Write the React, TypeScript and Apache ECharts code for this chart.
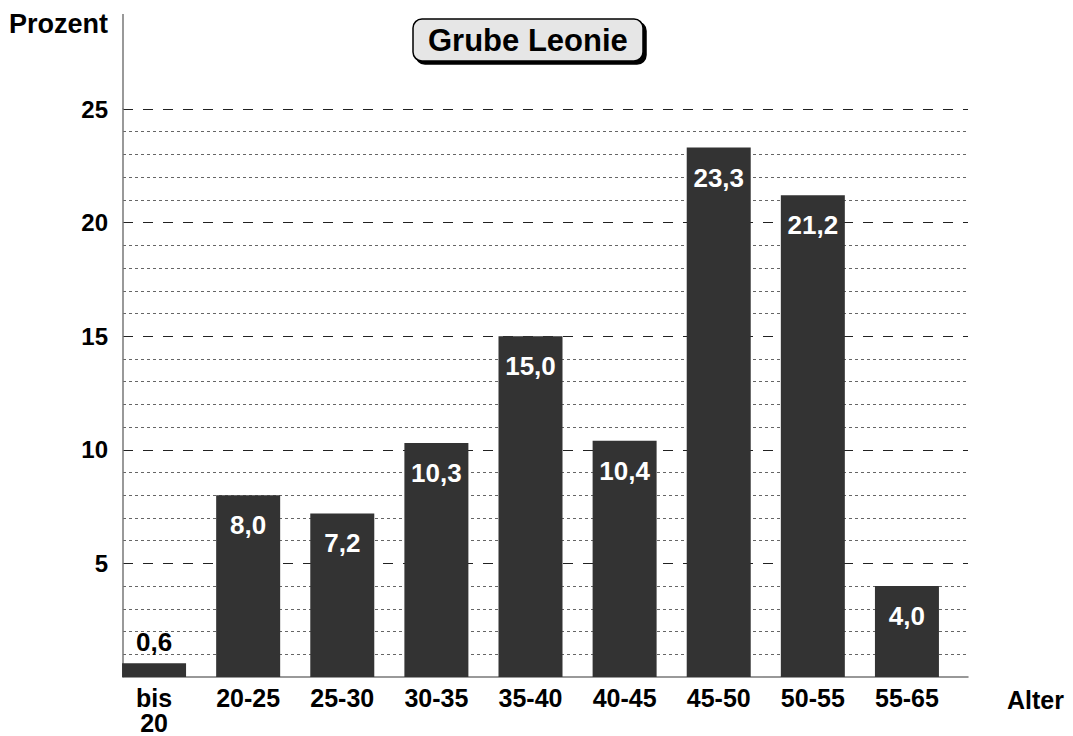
import React, { useEffect, useRef } from "react";
import * as echarts from "echarts";

const categories = ["bis\n20", "20-25", "25-30", "30-35", "35-40", "40-45", "45-50", "50-55", "55-65"];
const percentages = [0.6, 8.0, 7.2, 10.3, 15.0, 10.4, 23.3, 21.2, 4.0];
const yMin = 0;
const yMax = 25;
const yInterval = 5;
const titleText = "Grube Leonie";
const yName = "Prozent";
const xName = "Alter";

const FONT = "'Liberation Sans', Arial, sans-serif";

export default function App() {
  const ref = useRef<HTMLDivElement>(null);

  useEffect(() => {
    if (!ref.current) return;
    const chart = echarts.init(ref.current, null, { renderer: "svg" });

    const data = percentages.map((v) =>
      v < 3
        ? { value: v, label: { position: "top", distance: 8, color: "#000" } }
        : { value: v }
    );

    const option: any = {
      animation: false,
      backgroundColor: "#ffffff",
      title: {
        text: titleText,
        left: 413,
        top: 19,
        padding: [6, 15, 5, 15],
        backgroundColor: "#e6e6e6",
        borderColor: "#000",
        borderWidth: 1.5,
        borderRadius: 9,
        shadowColor: "#000",
        shadowBlur: 0,
        shadowOffsetX: 3,
        shadowOffsetY: 3,
        textStyle: { fontFamily: FONT, fontWeight: "bold", fontSize: 31, color: "#000" },
      },
      grid: [
        { left: 123, right: 105, top: 109, bottom: 59 },
        { left: 107, right: 119, top: 109, bottom: 59 },
      ],
      xAxis: [
        {
          gridIndex: 0,
          type: "value",
          min: 0,
          max: 1,
          axisLine: { show: true, onZero: false, lineStyle: { color: "#777", width: 1.5 } },
          axisTick: { show: false },
          axisLabel: { show: false },
          splitLine: { show: false },
          name: xName,
          nameLocation: "end",
          nameGap: 39,
          nameTextStyle: {
            fontFamily: FONT,
            fontWeight: "bold",
            fontSize: 25,
            color: "#000",
            align: "left",
            verticalAlign: "top",
            padding: [10, 0, 0, 0],
          },
        },
        {
          gridIndex: 1,
          type: "category",
          data: categories,
          axisLine: { show: false },
          axisTick: { show: false },
          axisLabel: {
            margin: 8,
            fontFamily: FONT,
            fontWeight: "bold",
            fontSize: 25,
            lineHeight: 25,
            color: "#000",
          },
        },
      ],
      yAxis: [
        {
          gridIndex: 0,
          type: "value",
          min: yMin,
          max: yMax,
          interval: yInterval,
          axisLine: { show: true, onZero: false, lineStyle: { color: "#777", width: 1.5 } },
          axisTick: { show: false },
          axisLabel: {
            margin: 15,
            fontFamily: FONT,
            fontWeight: "bold",
            fontSize: 24,
            color: "#000",
            formatter: (v: number) => (v === 0 ? "" : String(v)),
          },
          splitLine: {
            show: true,
            showMinLine: false,
            lineStyle: { type: [10, 10], color: "#222", width: 1 },
          },
          minorTick: { show: false, splitNumber: 5 },
          minorSplitLine: { show: true, lineStyle: { type: [3, 3], color: "#666", width: 1 } },
          name: yName,
          nameLocation: "end",
          nameGap: 85,
          nameTextStyle: {
            fontFamily: FONT,
            fontWeight: "bold",
            fontSize: 27,
            color: "#000",
            align: "right",
            verticalAlign: "middle",
            padding: [0, 15, 0, 0],
          },
        },
        { gridIndex: 1, type: "value", min: yMin, max: yMax, show: false },
      ],
      graphic: [
        {
          type: "line",
          shape: { x1: 123, y1: 14, x2: 123, y2: 109 },
          style: { stroke: "#777", lineWidth: 1.5 },
        },
      ],
      series: [
        {
          type: "bar",
          xAxisIndex: 1,
          yAxisIndex: 1,
          data,
          barWidth: 64,
          itemStyle: { color: "#333333" },
          label: {
            show: true,
            position: "insideTop",
            distance: 17,
            color: "#fff",
            fontFamily: FONT,
            fontWeight: "bold",
            fontSize: 26,
            formatter: (p: any) => Number(p.value).toFixed(1).replace(".", ","),
          },
        },
      ],
    };

    chart.setOption(option);
    return () => chart.dispose();
  }, []);

  return (
    <div
      ref={ref}
      style={{ position: "fixed", left: 0, top: 0, width: 1073, height: 736, background: "#fff" }}
    />
  );
}
